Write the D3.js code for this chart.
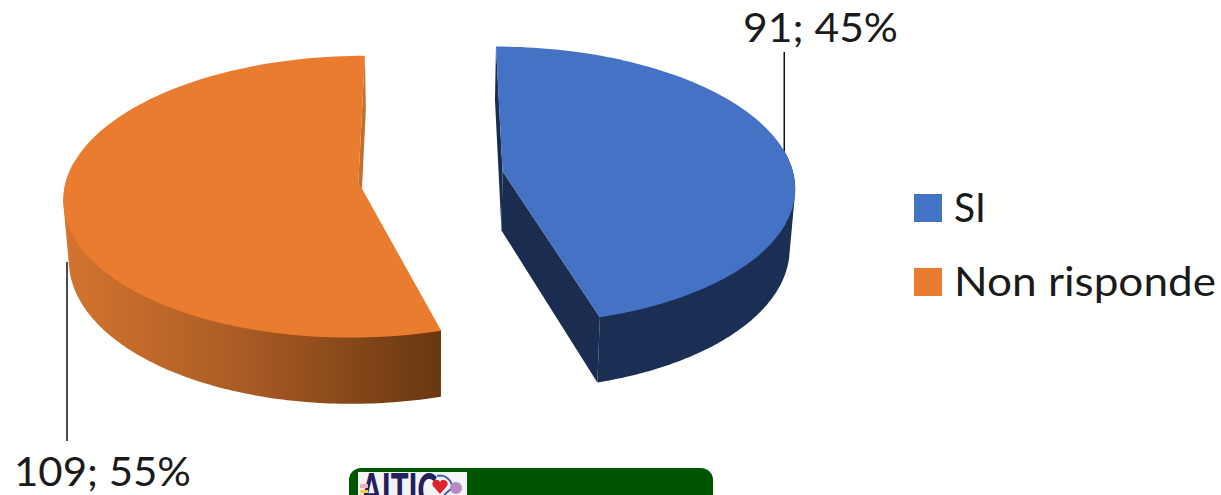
<!DOCTYPE html>
<html>
<head>
<meta charset="utf-8">
<script src="https://cdnjs.cloudflare.com/ajax/libs/d3/7.8.5/d3.min.js"></script>
<style>
  html, body { margin: 0; padding: 0; background: #fff; overflow: hidden; }
  text { font-family: Lato, "Open Sans", sans-serif; fill: #1a1a1a; }
</style>
</head>
<body>
<svg></svg>
<script>
// dati
const categories = ["SI", "Non risponde"];
const values = [91, 109];
const percents = [45, 55];
const colors = ["#4472c4", "#ea7c30"];

const width = 1221;
const height = 495;

const svg = d3.select("svg").attr("width", width).attr("height", height);
const defs = svg.append("defs");

// proiezione prospettica del disco (u, v) -> schermo
const x0 = 430, y0 = 170, k = 0.1, depth = 59, bottomScale = 0.985;
const sx = d3.scaleLinear().domain([0, 1]).range([x0, x0 + 290]);
const sy = d3.scaleLinear().domain([0, 1]).range([y0, y0 + 137]);
const offsets = [{ dx: 0.25, dz: 0.01 }, { dx: -0.245, dz: 0.09 }];

function project(i, a, r, bottom) {
  const o = offsets[i];
  const X = o.dx + r * Math.sin(a);
  const Z = o.dz - r * Math.cos(a);
  const p = 1 / (1 - k * Z);
  let px = sx(X * p), py = sy(Z * p);
  if (bottom) {
    px = x0 + (px - x0) * bottomScale;
    py += depth * p;
  }
  return [px, py];
}

const arcs = d3.pie().sort(null)(values);
const line = d3.line();

function rim(i, a0, a1, bottom) {
  return d3.range(0, 121).map(t => project(i, a0 + (a1 - a0) * t / 120, 1, bottom));
}

// gradiente della parete arancione
const grad = defs.append("linearGradient")
  .attr("id", "wallOrange")
  .attr("gradientUnits", "userSpaceOnUse")
  .attr("x1", 62).attr("x2", 440).attr("y1", 0).attr("y2", 0);
grad.append("stop").attr("offset", "0%").attr("stop-color", "#d4752f");
grad.append("stop").attr("offset", "50%").attr("stop-color", "#a85a24");
grad.append("stop").attr("offset", "100%").attr("stop-color", "#683711");

const wallFill = ["#1b2e54", "url(#wallOrange)"];
const faceFill = ["#1a2d50", "#c4702c"];

// angolo oltre il quale la parete e' nascosta dalla faccia superiore
const backLimit = 1.42;

const pie = svg.append("g");
arcs.forEach((d, i) => {
  const a0 = d.startAngle, a1 = d.endAngle;
  const g = pie.append("g");
  // facce di taglio
  [a0, a1].forEach(a => {
    g.append("path")
      .attr("fill", faceFill[i])
      .attr("d", line([
        project(i, a, 1, false), project(i, a, 0, false),
        project(i, a, 0, true), project(i, a, 1, true)
      ]) + "Z");
  });
  // parete esterna: inviluppo della parte rivolta verso chi guarda
  const w0 = Math.max(a0, backLimit);
  const w1 = Math.min(a1, 2 * Math.PI - backLimit);
  const hull = d3.polygonHull(rim(i, w0, w1, false).concat(rim(i, w0, w1, true)));
  g.append("path")
    .attr("fill", wallFill[i])
    .attr("d", line(hull) + "Z");
  // faccia superiore
  g.append("path")
    .attr("fill", colors[i])
    .attr("d", line([project(i, a0, 0, false)].concat(rim(i, a0, a1, false))) + "Z");
});

// etichette con linee guida
const leaderTop = project(0, backLimit, 1, false);
svg.append("line")
  .attr("x1", leaderTop[0]).attr("x2", leaderTop[0])
  .attr("y1", 52).attr("y2", leaderTop[1])
  .attr("stroke", "#000").attr("stroke-width", 1.4);
svg.append("line")
  .attr("x1", 67).attr("x2", 67)
  .attr("y1", 262).attr("y2", 441)
  .attr("stroke", "#000").attr("stroke-width", 1.4);

svg.append("text").attr("x", 743).attr("y", 42).attr("font-size", 40)
  .attr("textLength", 155).attr("lengthAdjust", "spacingAndGlyphs")
  .text(`${values[0]}; ${percents[0]}%`);
svg.append("text").attr("x", 14).attr("y", 486).attr("font-size", 40)
  .attr("textLength", 177).attr("lengthAdjust", "spacingAndGlyphs")
  .text(`${values[1]}; ${percents[1]}%`);

// legenda
const legendY = d3.scalePoint().domain(categories).range([208, 282]);
const legendW = [32, 262];
const legend = svg.append("g").selectAll("g").data(categories).join("g")
  .attr("transform", d => `translate(914,${legendY(d)})`);
legend.append("rect")
  .attr("x", 0).attr("y", -14).attr("width", 28).attr("height", 28)
  .attr("fill", (d, i) => colors[i]);
legend.append("text")
  .attr("x", 40).attr("y", 14).attr("font-size", 40)
  .attr("textLength", (d, i) => legendW[i]).attr("lengthAdjust", "spacingAndGlyphs")
  .text(d => d);

// banner verde in basso con logo
svg.append("rect")
  .attr("x", 349).attr("y", 468).attr("width", 364).attr("height", 50).attr("rx", 12)
  .attr("fill", "#005500");
defs.append("clipPath").attr("id", "logoClip").append("rect")
  .attr("x", 358).attr("y", 472).attr("width", 109).attr("height", 23);
const logo = svg.append("g").attr("clip-path", "url(#logoClip)");
logo.append("rect").attr("x", 358).attr("y", 472).attr("width", 109).attr("height", 23).attr("fill", "#f4f4f6");
logo.append("text").attr("x", 361).attr("y", 506).attr("font-size", 46)
  .attr("font-weight", 900).attr("textLength", 76).attr("lengthAdjust", "spacingAndGlyphs")
  .style("fill", "#24205e").text("AITIC");
logo.append("path").attr("fill", "none").attr("stroke", "#3f5fb5").attr("stroke-width", 2)
  .attr("d", "M437 476a12 12 0 0 1 15 12l-8 7");
logo.append("path").attr("fill", "#e0202a")
  .attr("d", "M440 494l-7-8a4 4 0 0 1 7-4a4 4 0 0 1 7 4z");
logo.append("circle").attr("cx", 456).attr("cy", 488).attr("r", 6).attr("fill", "#b58ac8");
logo.append("rect").attr("x", 360).attr("y", 484).attr("width", 8).attr("height", 4).attr("fill", "#eeb0c0");
logo.append("rect").attr("x", 360).attr("y", 490).attr("width", 8).attr("height", 3).attr("fill", "#f0d040");
</script>
</body>
</html>
